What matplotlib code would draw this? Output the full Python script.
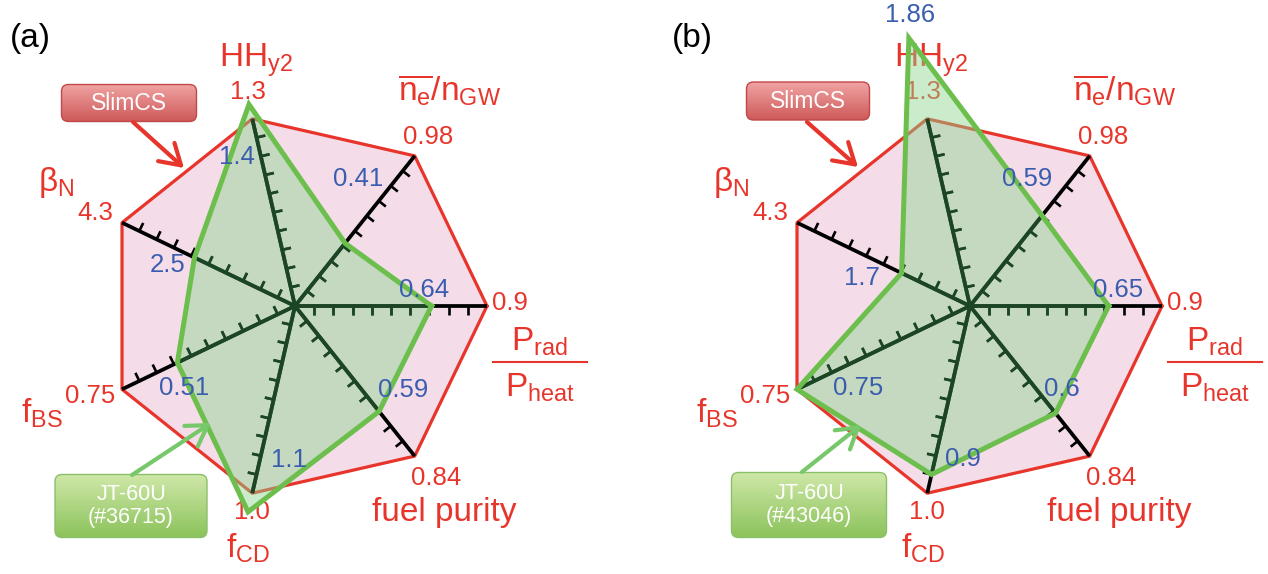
import numpy as np
import matplotlib.pyplot as plt
from matplotlib.patches import Polygon, FancyBboxPatch
from matplotlib.colors import to_rgb

plt.rcParams['font.family'] = ['Liberation Sans', 'DejaVu Sans']
plt.rcParams['mathtext.fontset'] = 'custom'
plt.rcParams['mathtext.rm'] = 'Liberation Sans'
plt.rcParams['mathtext.it'] = 'Liberation Sans'
plt.rcParams['mathtext.bf'] = 'Liberation Sans:bold'

# radar axes, counter-clockwise starting from the right
axis_names = [None, r'$\overline{\mathrm{n_e}}\mathrm{/n_{GW}}$', r'$\mathrm{HH_{y2}}$',
              r'$\mathrm{β_N}$', r'$\mathrm{f_{BS}}$', r'$\mathrm{f_{CD}}$', 'fuel purity']
slimcs_max = [0.9, 0.98, 1.3, 4.3, 0.75, 1.0, 0.84]
slimcs_lbl = ['0.9', '0.98', '1.3', '4.3', '0.75', '1.0', '0.84']

jt_a = [0.64, 0.41, 1.4, 2.5, 0.51, 1.1, 0.59]
jt_a_lbl = ['0.64', '0.41', '1.4', '2.5', '0.51', '1.1', '0.59']
jt_b = [0.65, 0.59, 1.86, 1.7, 0.75, 0.9, 0.6]
jt_b_lbl = ['0.65', '0.59', '1.86', '1.7', '0.75', '0.9', '0.6']
shots = ['#36715', '#43046']

RED = '#e8352b'
BLUE = '#3b5dae'
PINK = '#f4dde9'
GREEN = '#6cbf4c'
GFILL = '#8ad68d'
DKGREEN = '#1b4524'

R = 192
n = len(slimcs_max)
theta = np.arange(n) * 2 * np.pi / n

# label offsets (pixels)
name_off = [None, (35, -66), (4, -59), (-66, -40), (-80, 24), (-4, 55), (30, 56)]
max_off = [(23, -3), (13, -19), (-4, -27), (-27, -10), (-32, 7), (0, 19), (21, 22)]
val_off_a = [(-7, -16), (13, -64), (-12, 53), (-27, 7), (7, 25), (41, -52), (24, -21)]
val_off_b = [(9, -16), (-15, -37), (1, -23), (-40, 5), (61, -1), (31, -15), (6, -24)]


def pos(c, frac):
    frac = np.asarray(frac)
    return c[0] + R * frac * np.cos(theta), c[1] - R * frac * np.sin(theta)


def grad_box(ax, cx, cy, w, h, top, bottom, edge, text, fs):
    x0, y0 = cx - w / 2, cy - h / 2
    box = FancyBboxPatch((x0, y0), w, h, boxstyle='round,pad=0,rounding_size=7',
                         fc='none', ec=edge, lw=1.0, zorder=9)
    ax.add_patch(box)
    t = np.linspace(0, 1, 64)[:, None, None]
    img = (1 - t) * np.array(to_rgb(top)) + t * np.array(to_rgb(bottom))
    img = np.repeat(img, 2, axis=1)
    im = ax.imshow(img, extent=(x0, x0 + w, y0 + h, y0), origin='upper',
                   zorder=8, aspect='auto', interpolation='bilinear')
    im.set_clip_path(box)
    ax.text(cx, cy, text, color='white', fontsize=fs, ha='center', va='center',
            zorder=10, linespacing=1.15)


def radar(ax, c, vals, vlbls, voff):
    vx, vy = pos(c, np.ones(n))
    pink = Polygon(np.column_stack([vx, vy]), closed=True, fc=PINK, ec='none', zorder=1)
    ax.add_patch(pink)
    ax.plot(np.append(vx, vx[0]), np.append(vy, vy[0]), color=RED, lw=2.3, zorder=2)

    # spokes with ticks, black
    segs = []
    for k in range(n):
        segs.append(([c[0], vx[k]], [c[1], vy[k]]))
        tx, ty = np.sin(theta[k]), np.cos(theta[k])
        for j in range(1, 10):
            px = c[0] + R * j / 10 * np.cos(theta[k])
            py = c[1] - R * j / 10 * np.sin(theta[k])
            segs.append(([px, px + 9 * tx], [py, py + 9 * ty]))
    for i, (xs, ys) in enumerate(segs):
        ax.plot(xs, ys, color='black', lw=2.7 if i % 10 == 0 else 1.9,
                solid_capstyle='butt', zorder=3)

    # axis names and SlimCS values
    for k in range(n):
        ax.text(vx[k] + max_off[k][0], vy[k] + max_off[k][1], slimcs_lbl[k],
                color=RED, fontsize=18.5, ha='center', va='center', zorder=4)
        if axis_names[k] is not None:
            ax.text(vx[k] + name_off[k][0], vy[k] + name_off[k][1], axis_names[k],
                    color=RED, fontsize=24, ha='center', va='center', zorder=4)
    ax.text(vx[0] + 52, vy[0] + 36, r'$\mathrm{P_{rad}}$', color=RED, fontsize=24,
            ha='center', va='center', zorder=4)
    ax.plot([vx[0] + 6, vx[0] + 100], [vy[0] + 56] * 2, color=RED, lw=1.5, zorder=4)
    ax.text(vx[0] + 53, vy[0] + 82, r'$\mathrm{P_{heat}}$', color=RED, fontsize=24,
            ha='center', va='center', zorder=4)

    # JT-60U polygon
    frac = np.array(vals) / np.array(slimcs_max)
    gx, gy = pos(c, frac)
    green = Polygon(np.column_stack([gx, gy]), closed=True, fc=GFILL, ec='none',
                    alpha=0.45, zorder=5)
    ax.add_patch(green)
    for i, (xs, ys) in enumerate(segs):
        ln, = ax.plot(xs, ys, color=DKGREEN, lw=2.7 if i % 10 == 0 else 1.9,
                      solid_capstyle='butt', zorder=5.5)
        ln.set_clip_path(green)
    ax.plot(np.append(gx, gx[0]), np.append(gy, gy[0]), color=GREEN, lw=3.6,
            solid_joinstyle='miter', zorder=6)
    for k in range(n):
        ax.text(gx[k] + voff[k][0], gy[k] + voff[k][1], vlbls[k], color=BLUE,
                fontsize=18.5, ha='center', va='center', zorder=7)


fig = plt.figure(figsize=(12.68, 5.74), dpi=100)
ax = fig.add_axes([0, 0, 1, 1])

radar(ax, (295, 306), jt_a, jt_a_lbl, val_off_a)
radar(ax, (970, 306), jt_b, jt_b_lbl, val_off_b)

ax.text(30, 39, '(a)', fontsize=24, ha='center', va='center')
ax.text(692, 39, '(b)', fontsize=24, ha='center', va='center')

# SlimCS boxes and arrows
grad_box(ax, 129, 103, 135, 37, '#f0a3a3', '#cf5a5a', '#c04848', 'SlimCS', 16.5)
grad_box(ax, 808, 101, 123, 38, '#f0a3a3', '#cf5a5a', '#c04848', 'SlimCS', 16.5)
for tail, tip in [((133, 122), (184, 168)), ((807, 122), (858, 167))]:
    ax.annotate('', xy=tip, xytext=tail, zorder=9,
                arrowprops=dict(arrowstyle='->,head_length=0.65,head_width=0.4',
                                mutation_scale=22, lw=3, color=RED, shrinkA=0, shrinkB=0))

# JT-60U boxes and arrows
grad_box(ax, 131, 506, 152, 63, '#cfe8a8', '#8cc35c', '#8cbf6a', 'JT-60U\n(' + shots[0] + ')', 15.5)
grad_box(ax, 809, 505, 155, 65, '#cfe8a8', '#8cc35c', '#8cbf6a', 'JT-60U\n(' + shots[1] + ')', 15.5)
for tail, tip in [((132, 475), (211, 423)), ((802, 472), (861, 425))]:
    ax.annotate('', xy=tip, xytext=tail, zorder=9,
                arrowprops=dict(arrowstyle='->,head_length=0.65,head_width=0.4',
                                mutation_scale=22, lw=3, color='#77c86a', shrinkA=0, shrinkB=0))

ax.set_xlim(0, 1268)
ax.set_ylim(574, 0)
ax.set_aspect('auto')
ax.axis('off')
fig.savefig('out.png', dpi=100)
